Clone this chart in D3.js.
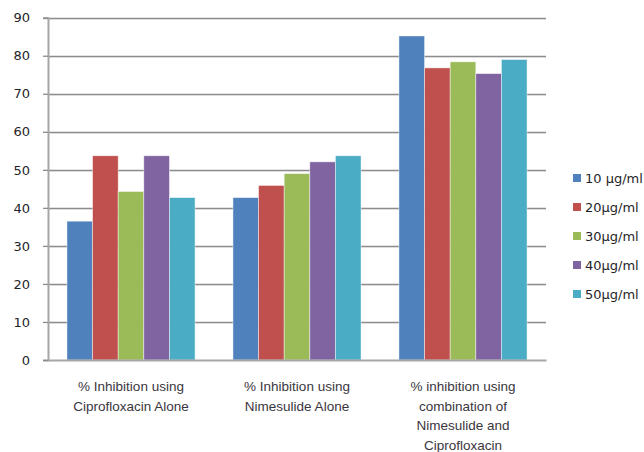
<!DOCTYPE html>
<html>
<head>
<meta charset="utf-8">
<script src="https://cdn.jsdelivr.net/npm/d3@7"></script>
<style>
  html, body { margin: 0; padding: 0; background: #fff; overflow: hidden; }
  svg { display: block; }
</style>
</head>
<body>
<svg id="chart" width="644" height="452"></svg>
<script>
// Groups along the x axis (each label split into its display lines)
const categories = [
  "% Inhibition using|Ciprofloxacin Alone",
  "% Inhibition using|Nimesulide Alone",
  "% inhibition using|combination of|Nimesulide and|Ciprofloxacin"
];
// Concentrations shown in the legend
const seriesNames = ["10 \u00b5g/ml", "20\u00b5g/ml", "30\u00b5g/ml", "40\u00b5g/ml", "50\u00b5g/ml"];
// Percent inhibition per concentration, one value per group
const s10 = [36.5, 42.7, 85.2];
const s20 = [53.7, 45.9, 76.8];
const s30 = [44.3, 49.0, 78.4];
const s40 = [53.7, 52.1, 75.3];
const s50 = [42.7, 53.7, 79.0];
const seriesValues = [s10, s20, s30, s40, s50];
const yTicks = [0, 10, 20, 30, 40, 50, 60, 70, 80, 90];
const colors = ["#4f81bd", "#c0504d", "#9bbb59", "#8064a2", "#4bacc6"];

const svg = d3.select("#chart");
const plot = { left: 48, right: 546, top: 17.7, bottom: 360 };

const y = d3.scaleLinear().domain([0, 90]).range([plot.bottom, plot.top]);
const x0 = d3.scaleBand().domain(d3.range(categories.length))
  .range([plot.left, plot.right]).padding(0);
const x1 = d3.scaleBand().domain(d3.range(seriesNames.length))
  .range([0, x0.bandwidth()]).paddingInner(0).paddingOuter(0.74);

// Horizontal gridlines
svg.append("g")
  .selectAll("line")
  .data(yTicks.filter(t => t > 0))
  .join("line")
  .attr("x1", plot.left).attr("x2", plot.right)
  .attr("y1", d => Math.round(y(d)) + 0.5).attr("y2", d => Math.round(y(d)) + 0.5)
  .attr("stroke", "#8c8c8c").attr("stroke-width", 1.3);
svg.append("g")
  .selectAll("line")
  .data(yTicks.filter(t => t > 0))
  .join("line")
  .attr("x1", plot.left).attr("x2", plot.right)
  .attr("y1", d => Math.round(y(d)) + 1.5).attr("y2", d => Math.round(y(d)) + 1.5)
  .attr("stroke", "#dcdcdc").attr("stroke-width", 1);

// Bars
const groups = svg.append("g")
  .selectAll("g")
  .data(categories.map((c, i) => i))
  .join("g")
  .attr("transform", i => `translate(${x0(i)},0)`);

groups.selectAll("rect")
  .data(i => seriesValues.map((vals, s) => ({ s, v: vals[i] })))
  .join("rect")
  .attr("x", d => x1(d.s))
  .attr("width", x1.bandwidth())
  .attr("y", d => y(d.v))
  .attr("height", d => y(0) - y(d.v))
  .attr("fill", d => colors[d.s])
  .attr("stroke", "rgba(255,255,255,0.55)")
  .attr("stroke-width", 0.8);

// Y axis
const yAxis = d3.axisLeft(y).tickValues(yTicks).tickSize(5).tickPadding(13)
  .tickFormat(d3.format("d"));
const yg = svg.append("g").attr("transform", `translate(${plot.left},0)`).call(yAxis);
yg.select(".domain").attr("stroke", "#a6a6a6").attr("stroke-width", 2);
yg.selectAll(".tick line").attr("stroke", "#8c8c8c").attr("stroke-width", 1.3);
yg.selectAll(".tick text")
  .attr("font-family", "'DejaVu Sans', Verdana, sans-serif")
  .attr("font-size", 13)
  .attr("fill", "#1f1f2a");

// X axis baseline
const xAxis = d3.axisBottom(x0).tickSize(0).tickFormat("");
const xg = svg.append("g").attr("transform", `translate(0,${plot.bottom})`).call(xAxis);
xg.select(".domain").attr("stroke", "#a6a6a6").attr("stroke-width", 2);

// Category labels, multi-line
xg.selectAll(".tick").each(function(i) {
  const lines = categories[i].split("|");
  const t = d3.select(this).append("text")
    .attr("text-anchor", "middle")
    .attr("font-family", "'Liberation Sans', Arial, sans-serif")
    .attr("font-size", 13.5)
    .attr("fill", "#3a3640");
  lines.forEach((ln, k) => {
    t.append("tspan").attr("x", 0).attr("y", 31 + k * 19.5).text(ln);
  });
});

// Legend
const legend = svg.append("g").attr("transform", "translate(573,178)");
const items = legend.selectAll("g").data(seriesNames).join("g")
  .attr("transform", (d, i) => `translate(0,${i * 29})`);
items.append("rect")
  .attr("x", 0).attr("y", -4).attr("width", 8).attr("height", 8)
  .attr("fill", (d, i) => colors[i]);
items.append("text")
  .attr("x", 12).attr("y", 0).attr("dy", "0.36em")
  .attr("font-family", "'DejaVu Sans', Verdana, sans-serif")
  .attr("font-size", 13)
  .attr("fill", "#1f1f2a")
  .text(d => d);
</script>
</body>
</html>
